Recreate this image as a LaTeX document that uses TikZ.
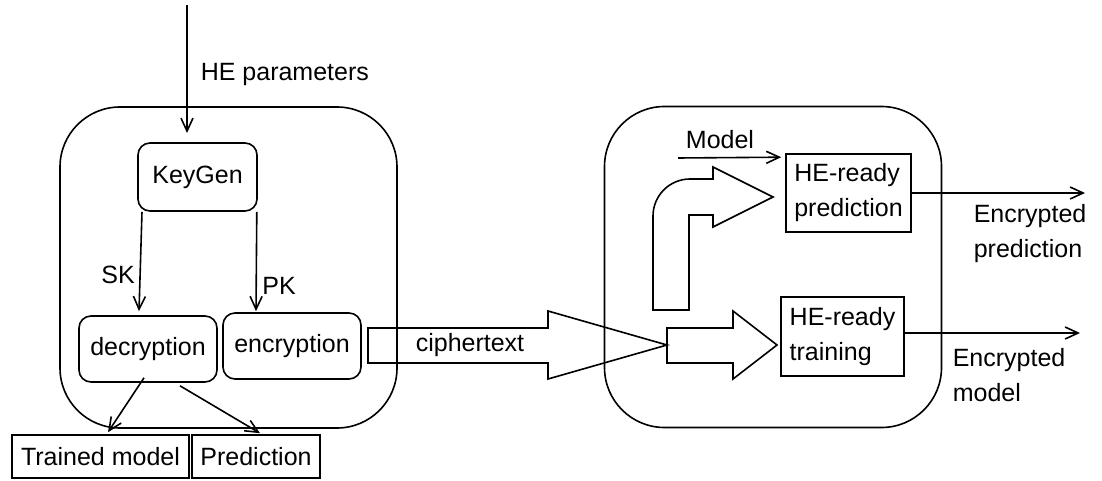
\documentclass[tikz,border=0pt]{standalone}
\usepackage{fontspec}
\setmainfont{Liberation Sans}
\usetikzlibrary{arrows.meta,positioning}

\begin{document}
\begin{tikzpicture}[
	% pixel grid of the drawing, y pointing down
	x=1pt,
	y=-1pt,
	font=\fontsize{25}{35}\selectfont,
	line width=1.6pt,
	arr/.style={-{Straight Barb[length=13pt,width=12pt,line width=1.6pt]}},
	container/.style={draw,rounded corners=60pt,minimum width=337pt,minimum height=321pt,inner sep=0pt},
	rbox/.style={draw,rounded corners=12pt,inner sep=0pt},
	sbox/.style={draw,inner sep=0pt,minimum height=43pt},
	hebox/.style={draw,inner sep=0pt,align=left},
	lbl/.style={inner sep=0pt}
	]
	\useasboundingbox (0,0) rectangle (1102,481);

	%
	% Panel 1: client side
	%
	\node[container] (client) at (228.5,267.5) {};
	\node[rbox,minimum width=119pt,minimum height=68pt] (keygen) at (197.5,177) {KeyGen};
	\node[rbox,minimum width=138pt,minimum height=66pt] (decryption) at (148,349) {decryption};
	\node[rbox,minimum width=138pt,minimum height=66pt] (encryption) at (292,346) {encryption};
	\node[sbox,minimum width=177pt] (trained) at (100.5,456.5) {Trained model};
	\node[sbox,minimum width=128pt] (prediction) at (256,456.5) {Prediction};

	% parameters coming in from above
	\coordinate (hein) at (187,5);
	\coordinate (hetip) at (187,133);
	\draw[arr] (hein) -- (hetip);
	\node[lbl,anchor=west] (helabel) at (200,74) {HE parameters};

	% keys
	\draw[arr] ([xshift=-55.5pt]keygen.south) -- ([xshift=-9pt,yshift=4pt]decryption.north);
	\draw[arr] ([xshift=-1pt]keygen.south east) -- ([xshift=-36pt,yshift=1pt]encryption.north);
	\node[lbl] (sklabel) at (118,275) {SK};
	\node[lbl] (pklabel) at (279,286) {PK};

	% results
	\draw[arr] ([xshift=-4pt,yshift=5pt]decryption.south) -- ([xshift=7.5pt,yshift=2pt]trained.north);
	\draw[arr] ([xshift=32pt,yshift=-3pt]decryption.south) -- ([xshift=4pt,yshift=1pt]prediction.north);

	%
	% ciphertext transfer
	%
	\draw (368,328) -- (548,328) -- (548,311) -- (667,345) -- (548,379) -- (548,363) -- (368,363) -- cycle;
	\node[lbl] (cipher) at (470,345) {ciphertext};

	%
	% Panel 2: server side
	%
	\node[container] (server) at (773,267) {};
	\node[hebox,minimum width=125pt,minimum height=78pt] (hepred) at (848.5,193) {HE-ready\\prediction};
	\node[hebox,minimum width=123pt,minimum height=79pt] (hetrain) at (842.5,336.5) {HE-ready\\training};

	% model input
	\coordinate (modelin) at (678,158);
	\draw[arr] (modelin) -- ([xshift=-4pt,yshift=-4pt]hepred.north west);
	\node[lbl] (modellabel) at (720,140) {Model};

	% bent block arrow to prediction
	\draw (653,310) -- (653,216) arc[start angle=180,end angle=90,radius=37pt]
		-- (713,179) -- (713,167) -- (773,197) -- (713,227) -- (713,215)
		-- (689,215) -- (689,310) -- cycle;
	% block arrow to training
	\draw (667,328) -- (733,328) -- (733,311) -- (777,345) -- (733,379) -- (733,363) -- (667,363) -- cycle;

	% outputs
	\coordinate (encpred) at (1085,193);
	\coordinate (encmodel) at (1080,333);
	\draw[arr] (hepred.east) -- (encpred);
	\draw[arr] ([yshift=3.5pt]hetrain.east) -- (encmodel);
	\node[lbl,anchor=west,align=left] (predout) at (973,234) {Encrypted\\prediction};
	\node[lbl,anchor=west,align=left] (modelout) at (952,375) {Encrypted\\model};
\end{tikzpicture}
\end{document}
